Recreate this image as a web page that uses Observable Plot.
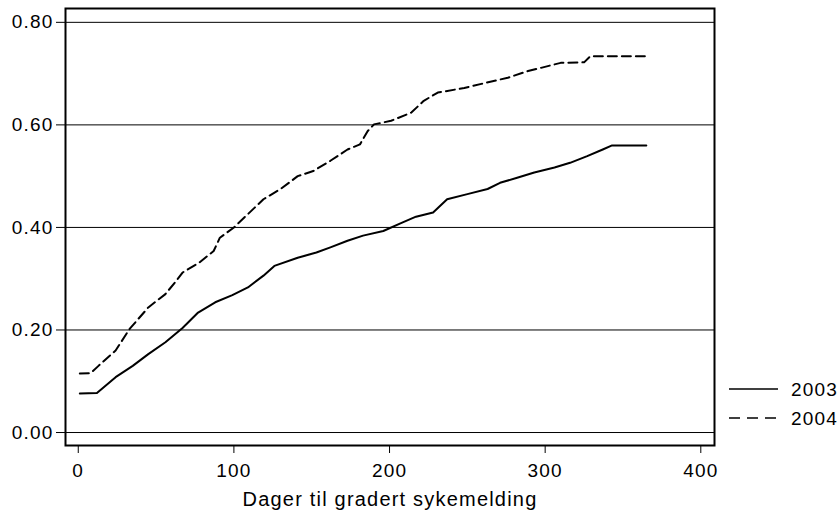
<!DOCTYPE html>
<html>
<head>
<meta charset="utf-8">
<script src="https://cdn.jsdelivr.net/npm/d3@7"></script>
<script src="https://cdn.jsdelivr.net/npm/@observablehq/plot@0.6"></script>
<style>
  html, body { margin: 0; padding: 0; background: #fff; }
  #wrap { position: relative; width: 839px; height: 512px; }
  #legend { position: absolute; left: 0; top: 0; }
</style>
</head>
<body>
<div id="wrap"></div>
<script>
const seriesNames = ["2003", "2004"];
const days2003 = [1, 12, 24, 35, 45, 56, 67, 77, 88, 99, 109, 119, 126, 141, 153, 162, 173, 183, 196, 207, 217, 228, 237, 250, 263, 271, 282, 293, 306, 316, 327, 337, 343, 365];
const vals2003 = [0.076, 0.077, 0.108, 0.130, 0.153, 0.176, 0.204, 0.234, 0.254, 0.268, 0.283, 0.306, 0.325, 0.341, 0.351, 0.361, 0.374, 0.384, 0.393, 0.408, 0.421, 0.429, 0.455, 0.465, 0.475, 0.487, 0.497, 0.507, 0.517, 0.526, 0.539, 0.552, 0.560, 0.560];
const days2004 = [1, 8, 13, 24, 33, 45, 56, 63, 67, 78, 87, 91, 100, 109, 119, 130, 141, 151, 162, 173, 181, 186, 190, 201, 214, 222, 231, 248, 259, 276, 289, 297, 310, 325, 329, 365];
const vals2004 = [0.115, 0.116, 0.130, 0.160, 0.202, 0.244, 0.270, 0.296, 0.312, 0.332, 0.354, 0.380, 0.400, 0.426, 0.455, 0.475, 0.500, 0.510, 0.530, 0.552, 0.562, 0.588, 0.601, 0.608, 0.624, 0.647, 0.663, 0.672, 0.680, 0.692, 0.705, 0.711, 0.721, 0.722, 0.734, 0.734];
const xTicks = [0, 100, 200, 300, 400];
const yTicks = [0, 0.2, 0.4, 0.6, 0.8];
const xLabel = "Dager til gradert sykemelding";

const d2003 = days2003.map((d, i) => ({day: d, value: vals2003[i]}));
const d2004 = days2004.map((d, i) => ({day: d, value: vals2004[i]}));

const chart = Plot.plot({
  width: 839,
  height: 512,
  marginLeft: 65,
  marginRight: 125,
  marginTop: 8,
  marginBottom: 67,
  style: {fontFamily: "'Liberation Sans', Arial, sans-serif", fontSize: "19px", color: "#000", background: "#fff", letterSpacing: "1.2px"},
  x: {domain: [-8.2, 408.8]},
  y: {domain: [-0.0253, 0.827]},
  marks: [
    Plot.ruleY(yTicks, {stroke: "#000", strokeWidth: 1}),
    Plot.line(d2003, {x: "day", y: "value", stroke: "#000", strokeWidth: 2}),
    Plot.line(d2004, {x: "day", y: "value", stroke: "#000", strokeWidth: 2, strokeDasharray: "9,5"}),
    Plot.frame({stroke: "#000", strokeWidth: 2}),
    Plot.axisY({ticks: yTicks, tickFormat: d3.format(".2f"), tickSize: 9, tickPadding: 3, label: null, stroke: "#000", fontSize: 19}),
    Plot.axisX({ticks: xTicks, tickFormat: d3.format("d"), tickSize: 8, tickPadding: 10, label: null, stroke: "#000", fontSize: 19}),
    Plot.text([xLabel], {frameAnchor: "bottom", dy: 54, lineAnchor: "middle", fontSize: 20, fill: "#000"})
  ]
});
document.getElementById("wrap").appendChild(chart);

// Legend (outside the plot frame, at right)
const leg = d3.create("svg").attr("id", "legend").attr("width", 839).attr("height", 512)
  .style("font-family", "'Liberation Sans', Arial, sans-serif").style("font-size", "19px").style("letter-spacing", "1.2px");
const items = [
  {name: seriesNames[0], dash: null, y: 389},
  {name: seriesNames[1], dash: "11,7", y: 418}
];
for (const it of items) {
  leg.append("line").attr("x1", 729).attr("x2", 778).attr("y1", it.y).attr("y2", it.y)
    .attr("stroke", "#000").attr("stroke-width", 1.5).attr("stroke-dasharray", it.dash);
  leg.append("text").attr("x", 791).attr("y", it.y).attr("dy", "0.35em").attr("fill", "#000").text(it.name);
}
document.getElementById("wrap").appendChild(leg.node());
</script>
</body>
</html>
